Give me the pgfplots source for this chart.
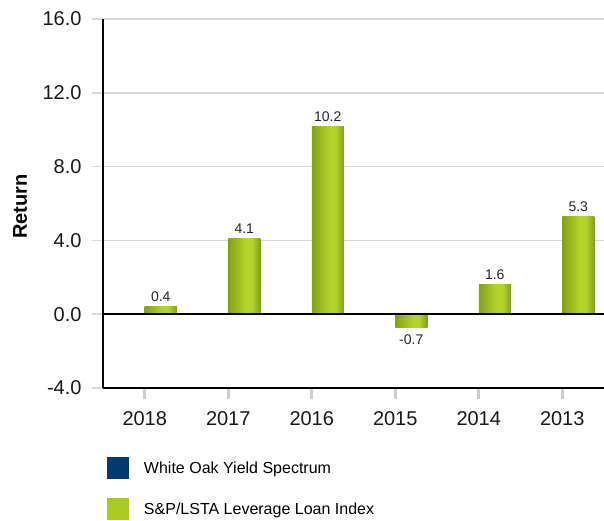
\documentclass[border=0pt]{standalone}
\usepackage{fontspec}
\setmainfont{Liberation Sans}
\usepackage{pgfplots}
\pgfplotsset{compat=1.18}
\definecolor{gridgray}{HTML}{D9D9D9}
\definecolor{tickgray}{HTML}{C8CDD3}
\definecolor{woblue}{HTML}{003A70}
\definecolor{spgreen}{HTML}{A8CA22}
\definecolor{gdark}{HTML}{84A01A}
\definecolor{glight}{HTML}{B4D42C}
\pgfdeclarehorizontalshading{barshade}{100bp}{color(0bp)=(gdark); color(25bp)=(gdark); color(53bp)=(glight); color(62bp)=(glight); color(75bp)=(gdark); color(100bp)=(gdark)}
\pgfplotsset{spbar/.style={ybar, bar width=32pt, bar shift=16pt, draw=none,
  shade, shading=barshade, forget plot,
  nodes near coords={\pgfmathprintnumber[fixed, fixed zerofill, precision=1]{\pgfplotspointmeta}},
  every node near coord/.append style={font=\fontsize{14}{16}\selectfont, text=black!85, inner sep=4.5pt, xshift=16pt}}}
\begin{document}
\begin{tikzpicture}
\useasboundingbox (-103pt,-133pt) rectangle (501pt,388pt);
\begin{axis}[
  scale only axis, width=501pt, height=369pt,
  xmin=-0.5, xmax=5.5, ymin=-4, ymax=16,
  axis x line=bottom, axis y line=left,
  axis line style={-, black, line width=1.2pt},
  /pgf/number format/assume math mode=true,
  ytick={-4,0,4,8,12,16},
  yticklabel style={xshift=-7pt, /pgf/number format/.cd, fixed, fixed zerofill, precision=1},
  xtick={0,1,2,3,4,5},
  xticklabels={2018,2017,2016,2015,2014,2013},
  tick label style={font=\fontsize{20}{24}\selectfont, text=black!90},
  xticklabel style={yshift=-9pt},
  tick align=outside,
  major tick length=11pt,
  ytick style={gridgray, line width=1.5pt},
  xtick style={tickgray, line width=3pt},
  ymajorgrids,
  major grid style={gridgray, line width=1.5pt},
  ylabel={Return},
  every axis y label/.style={at={(rel axis cs:0,0.5)}, xshift=-83pt, yshift=-3pt, rotate=90, anchor=center, font=\fontsize{20}{24}\selectfont\bfseries},
  legend image code/.code={\fill[#1] (0pt,-11pt) rectangle (22pt,11pt);},
  legend cell align=left,
  legend style={draw=none, fill=none, inner sep=0pt, outer sep=0pt,
    at={(rel axis cs:0,0)}, anchor=north west, xshift=4pt, yshift=-69pt,
    font=\fontsize{16}{19}\selectfont, row sep=19pt, column sep=15pt,
    nodes={inner sep=0pt}},
]
\addlegendimage{draw=none, fill=woblue}
\addlegendentry{White Oak Yield Spectrum}
\addlegendimage{draw=none, fill=spgreen}
\addlegendentry{S\&P/LSTA Leverage Loan Index}
\addplot[spbar] coordinates {(0,0.4)};
\addplot[spbar] coordinates {(1,4.1)};
\addplot[spbar] coordinates {(2,10.2)};
\addplot[spbar, every node near coord/.append style={yshift=-3pt}] coordinates {(3,-0.7)};
\addplot[spbar] coordinates {(4,1.6)};
\addplot[spbar] coordinates {(5,5.3)};
\draw[black, line width=1.5pt] (axis cs:-0.5,0) -- (axis cs:5.5,0);
\end{axis}
\end{tikzpicture}
\end{document}
